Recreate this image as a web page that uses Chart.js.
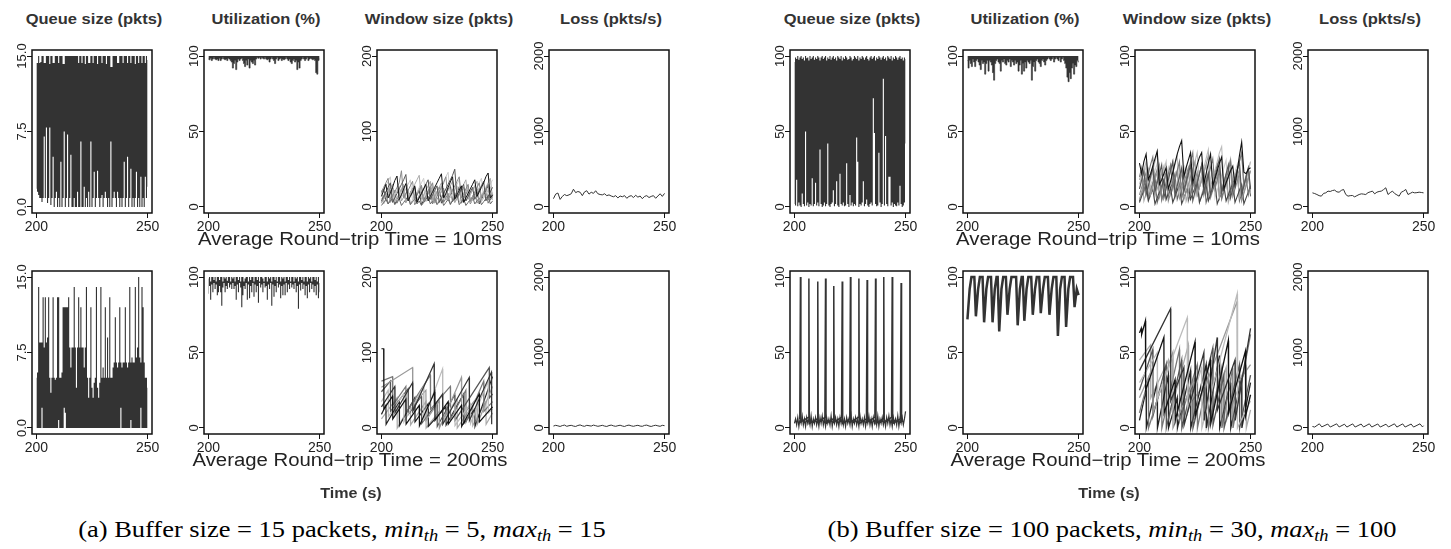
<!DOCTYPE html>
<html>
<head>
<meta charset="utf-8">
<script src="https://cdn.jsdelivr.net/npm/chart.js@4.4.1/dist/chart.umd.min.js"></script>
<style>
  body { margin: 0; background: #fff; width: 1451px; height: 549px; position: relative; overflow: hidden;
         font-family: "Liberation Sans", Arial, sans-serif; }
  canvas { position: absolute; }
  .lbl { position: absolute; white-space: nowrap; }
  .title { font-weight: bold; font-size: 15px; color: #333; }
  .rtt { font-size: 18px; color: #222; }
  .tlab { font-weight: bold; font-size: 14px; color: #333; }
  .cap { font-family: "Liberation Serif", "Times New Roman", serif; font-size: 23px; color: #000; }
  .cap sub { font-size: 16px; vertical-align: -4px; line-height: 0; }
</style>
</head>
<body>
<script>
// time axis: samples from t = 200 s, dense traces every 0.5 s, slow traces every 1 s
const T0 = 200;
const FAST = 0.5;
const SLOW = 1;

// ---------- (a) buffer 15, RTT 10ms ----------
const queueA10Max = [
  14.3,14.3,15,14.3,14.4,15,15,14.3,14.3,15,
  15,15,14.2,15,15,14.3,14.3,15,15,15,
  14.3,15,15,15,14.2,14.2,15,15,15,15,
  15,15,15,15,15,15,15,15,14.3,15,
  15,14.3,15,15,14.2,15,15,14.3,14.3,15,
  15,14.3,15,15,15,14.2,15,15,15,14.3,
  15,15,15,14.2,15,15,15,13.9,13.9,15,
  15,15,15,14.3,14.3,15,15,15,14.3,15,
  15,15,14.3,15,15,14.3,15,15,15,14.2,
  15,15,14.3,15,15,14.3,15,15,14.3,15,
  14.6];
const queueA10Min = [
  1.8,1.5,1.2,0.9,0.9,0.5,0.9,7.0,0.9,7.9,
  0.4,0.9,7.9,0.2,0.9,5.0,0,0.9,1.5,0,
  0.9,0,4.5,0,0.9,7.5,0,0.9,7.2,0,
  0.9,5.2,0,0,0.9,0,0,1.5,0,0,
  6.5,0,0,2.0,0,0.9,0,1.5,0,6.5,
  0,0.9,3.5,0,0.9,3.6,0.9,0,0.9,1.2,
  0,0.9,1.5,0.9,0,0.9,0,6.5,0,0.9,
  1.5,0.9,0,1.5,0.9,0,0.9,0,0.9,4.5,
  0,0.9,5.0,0,0.9,3.8,0,0.9,0,0.9,
  3.5,0,0.9,0,3.0,0,0.9,0,3.0,0.9,
  2.0];
const utilA10Min = [
  98,97.5,98.5,97,98,99,98,97.5,98,97,
  98.5,97,98,99,98,97.5,98,97,98.5,98,
  97,96,92,95,97,91,96,98,97,98,
  98.5,97,95,93,97,94,98,92,97,96,
  95,97,94,98,99,98.5,99,98,99,98.5,
  98,99,98,97.5,98,96,98,99,98,97,
  95,98,99,97,98,98.5,97,98,97.5,98,
  99,98,97,98,96,95,97,98,96,97,
  91,96,92,97,98,99,98,97,98,99,
  97,98,98.5,98,97.5,98,97,89,88,97,
  98];
const windowA10 = [
  [14,22,30,12,18,26,35,41,10,16,24,31,8,14,20,28,6,12,18,24,30,8,14,20,26,32,38,44,12,18,26,33,40,10,16,22,28,6,12,18,24,30,36,14,20,26,32,40,45,12,16],
  [8,14,20,26,32,6,12,18,24,30,36,43,10,14,20,26,8,13,18,24,30,36,10,16,22,28,6,12,18,24,30,36,42,50,12,18,24,30,8,14,20,26,10,16,22,28,34,8,14,20,26],
  [20,26,32,38,10,15,20,26,32,48,12,18,22,28,34,10,16,22,28,8,14,20,26,32,8,14,20,26,32,40,10,16,22,28,34,40,12,18,24,30,8,14,20,26,32,12,18,24,30,10,16],
  [5,10,15,20,25,30,8,12,18,24,30,6,12,18,24,30,36,42,10,16,22,28,34,8,14,20,26,32,10,16,22,28,34,6,12,18,24,30,36,10,16,22,28,34,8,14,20,26,32,38,12],
  [16,22,28,34,40,10,16,22,28,12,18,24,30,36,8,14,20,26,32,38,14,20,26,32,10,16,22,28,34,40,46,12,18,24,30,36,10,16,22,28,8,14,20,26,32,38,12,18,24,30,36],
  [2,6,10,4,8,12,3,7,11,2,6,10,14,3,7,11,4,8,2,6,10,14,4,8,12,3,7,11,2,6,10,4,8,12,16,3,7,11,2,6,10,14,4,8,12,3,7,11,15,4,8],
  [10,15,20,25,6,11,16,21,26,8,13,18,23,4,9,14,19,24,29,7,12,17,22,27,5,10,15,20,25,9,14,19,24,6,11,16,21,26,8,13,18,23,28,5,10,15,20,25,9,14,19],
  [22,4,9,14,19,24,6,11,16,21,26,8,13,18,23,5,10,15,20,25,7,12,17,22,27,4,9,14,19,24,8,13,18,23,28,6,11,16,21,26,5,10,15,20,25,7,12,17,22,27,9],
  [6,12,18,4,10,16,22,5,11,17,23,7,13,19,25,3,9,15,21,6,12,18,24,4,10,16,22,28,6,12,18,3,9,15,21,27,5,11,17,23,4,10,16,22,6,12,18,24,5,11,17],
  [18,24,8,14,20,26,4,10,16,22,28,6,12,18,24,10,16,22,3,9,15,21,27,8,14,20,26,5,11,17,23,29,7,13,19,25,9,15,21,27,6,12,18,24,4,10,16,22,28,9,15]
];
const lossA10 = [110,170,185,100,140,165,150,160,175,235,190,205,195,150,200,215,170,195,180,215,175,165,160,175,150,160,145,135,150,120,145,135,150,115,140,150,125,155,130,145,110,140,150,125,140,150,115,145,175,140,180];

// ---------- (a) buffer 15, RTT 200ms ----------
const queueA200Max = [
  5,5.5,14,8.5,8.5,8.5,13,8,13,8.5,
  9,13,5,3.5,5,13,5,4.8,5,13,
  13,5,5,5.5,12,12,12,12,12,13,
  8,6,8,8,14,8,4,8,13,8,
  12,8,8,6,8,14,5,3,5,12,
  4,3,4.5,5,14,4,3,4.5,14,5,
  6,5,12,5,9,5,13,5,5,6,
  6.5,11,6.5,6,6.5,12,6.5,6,6.5,6.5,
  12,6.5,6,6.5,14,6.5,7,6.5,6.5,14,
  7,8,15,7,6.5,14,12,6.5,5,5,
  4];
const queueA200Min = [
  0,0,0,0,0,2,0,0,0,0,
  0,0,0,0,0,0,0,0,0,0,
  0.8,0,0,0,0,2,1.5,0,0,0,
  0,0,0,0,0,0,0,0,0,0,
  0,0,0,0,0,0,0,0,0,0,
  0,0,0,0,0,0,0,0,0,0,
  0,0,0,0,0,0,0,0,0,0,
  0,0,0,0,0,0,2,0,0,0,
  0,0,0,0,0,0.8,0,0,0,0,
  0,0,0,0,2,0,0,0,0,0,
  0];
const utilA200Max = [
  99,100,97,100,100,98,100,97,100,100,
  98,100,100,97,100,99,100,97.5,100,100,
  97,100,99,100,97,100,100,98,100,97,
  100,100,97,99,100,100,97,100,98,100,
  100,97,100,100,98,100,97,100,100,99,
  97,100,100,97,100,99,100,97,100,100,
  98,100,97,100,100,97,100,99,100,97,
  100,100,98,100,97,100,100,97,100,99,
  100,97,100,100,98,100,97,100,100,97,
  100,99,100,97,100,100,98,100,97,100,
  96];
const utilA200Min = [
  89,94,85,95,90,96,92,95,88,90,
  94,90,81,93,96,90,94,92,96,93,
  95,92,96,92,94,85,95,90,96,93,
  80,88,94,92,96,85,95,86,94,90,
  96,87,95,90,94,83,96,93,95,90,
  96,93,94,85,95,92,96,81,95,87,
  94,90,96,93,95,86,94,88,95,88,
  96,90,95,92,96,93,95,92,96,90,
  94,79,95,91,96,92,95,88,94,86,
  95,90,96,92,95,90,94,88,95,86,
  90];
const windowA200 = [
  [[200,105],[201,105],[201.1,25],[205,42],[205.1,12],[211,38],[211.1,5],[217,30],[217.1,3],[224,48],[224.1,10],[230,35],[230.1,5],[236,30],[236.1,2],[244,45],[244.1,8],[250,28]],
  [[200,28],[206,55],[206.1,20],[214,60],[214.1,22],[223.7,85],[223.8,30],[227.5,45],[227.6,5],[239.5,67],[239.6,10],[249.5,74],[249.6,5]],
  [[200,35],[203,50],[203.1,15],[210,45],[210.1,8],[219,55],[219.1,12],[227.5,78],[227.6,8],[233,35],[233.1,3],[240,32],[240.1,6],[248,62],[248.1,20],[250,25]],
  [[200,54],[214,80],[214.1,30],[220,50],[220.1,10],[226,36],[226.1,0],[236,67],[236.1,15],[243,40],[243.1,5],[250,55]],
  [[200,48],[204,62],[204.1,22],[212,52],[212.1,18],[218,42],[218.1,6],[225,33],[225.1,2],[233,44],[233.1,10],[248.5,80],[248.6,40],[250,45]],
  [[200,62],[205,68],[205.1,30],[211,55],[211.1,20],[222,70],[222.1,25],[231,55],[231.1,12],[238,50],[238.1,8],[246,62],[246.1,22],[250,35]],
  [[200,18],[202,30],[202.1,5],[208,35],[208.1,3],[215,40],[215.1,8],[221,32],[221.1,2],[229,28],[229.1,4],[237,45],[237.1,6],[242,25],[242.1,2],[250,68]],
  [[200,12],[207,40],[207.1,0],[213,30],[213.1,4],[220,35],[220.1,0],[226,22],[226.1,2],[234,38],[234.1,0],[241,30],[241.1,3],[247,35],[247.1,5],[250,20]]
];
const lossA200 = [25,35,28,20,32,38,22,30,35,25,20,33,40,28,22,35,30,25,38,30,22,28,35,25,20,32,38,28,22,30,36,26,20,32,38,28,22,30,35,25,22,34,38,26,20,30,36,28,22,35,30];

// ---------- (b) buffer 100, RTT 10ms ----------
const queueB10Max = [
  96,99,98,100,97.5,99,100,98,99,97,
  100,98.5,99,97,100,98,99,100,97.5,99,
  98,100,99,97,99,100,98,99,100,97,
  99,98,100,97.5,99,100,98,99,97,100,
  99,98,100,97,99,98,100,99,97.5,98,
  100,99,97,98,100,99,98,100,97,99,
  98,100,99,97.5,99,100,98,97,99,100,
  98,99,100,97,99,98,100,99,97.5,99,
  100,98,99,97,100,99,98,100,97,99,
  98,100,99,97.5,99,100,98,99,97,99,
  98];
const queueB10Min = [
  2,1,18,0.5,3,1,0,9,2,0.5,
  50,1,3,0,2,1,19,0.5,2,16,
  1,3,0.5,38,2,0,1,3,0.5,2,
  42,1,0,2,3,11,0.5,2,17,1,
  0,22,2,1,3,0.5,1,29,2,0,
  8,1,3,0.5,2,1,46,30,0,2,
  1,3,17,0.5,2,5,1,0,2,3,
  1,72,49,2,0.5,1,36,3,0,2,
  85,1,47,2,0.5,20,20,1,3,0,
  2,1,0.5,3,1,14,2,0,1,3,
  42];
const utilB10Min = [
  97,92,97,95,93,98,96,93,97,98,
  96,94,91,97,95,96,88,95,97,90,
  97,96,94,89,84,95,97,98,96,95,
  90,97,96,98,95,94,97,96,98,93,
  97,96,94,97,95,96,90,94,97,88,
  95,90,96,92,97,96,95,97,84,93,
  96,90,97,98,96,95,93,97,98,96,
  94,97,98,99,98,97,98,99,96,98,
  99,98,97,99,96,98,99,97,95,92,
  86,83,89,85,92,95,88,94,93,97,
  96];
const windowB10 = [
  [29,22,30,35,18,22,27,32,37,15,18,22,26,12,17,23,29,35,40,44,20,26,31,36,16,22,28,33,36,15,22,29,35,14,19,24,29,33,12,16,20,24,27,14,24,34,43,23,22,25,26],
  [12,18,24,8,14,20,26,10,16,22,28,6,12,18,24,30,8,14,20,26,10,16,22,28,4,10,16,22,28,10,16,22,8,14,20,26,32,10,16,22,28,6,12,18,24,30,8,14,20,26,12],
  [20,26,10,16,22,28,33,12,18,24,5,10,16,22,28,12,18,24,30,6,12,18,24,30,36,10,16,22,28,8,14,20,26,32,12,18,24,6,12,18,24,30,12,18,24,30,36,14,20,8,14],
  [5,10,15,20,25,8,13,18,23,28,4,9,14,19,24,30,10,15,20,25,5,10,15,20,25,30,8,13,18,23,28,34,8,13,18,23,6,11,16,21,26,31,10,15,20,25,5,10,15,20,24],
  [15,20,25,30,12,18,24,30,36,12,18,24,30,10,16,22,28,34,8,14,20,26,12,18,24,30,36,14,20,26,32,38,12,18,24,30,36,40,14,20,26,32,12,18,24,30,36,12,18,24,30],
  [3,7,11,15,4,8,12,2,6,10,14,18,5,9,13,3,7,11,15,2,6,10,14,5,9,13,17,3,7,11,15,4,8,12,16,2,6,10,14,4,8,12,16,3,7,11,15,2,6,10,14],
  [8,13,18,23,5,10,15,20,25,7,12,17,22,4,9,14,19,24,6,11,16,21,26,8,13,18,23,3,8,13,18,23,6,11,16,21,26,5,10,15,20,25,7,12,17,22,4,9,14,19,24],
  [18,23,4,9,14,19,24,7,12,17,22,27,5,10,15,20,6,11,16,21,26,4,9,14,19,24,8,13,18,23,28,5,10,15,20,25,7,12,17,22,3,8,13,18,23,6,11,16,21,26,9],
  [4,9,14,19,6,11,16,21,3,8,13,18,23,7,12,17,22,5,10,15,20,25,4,9,14,19,8,13,18,23,3,8,13,18,23,28,6,11,16,21,5,10,15,20,25,4,9,14,19,24,7],
  [12,17,22,27,9,14,19,24,29,6,11,16,21,26,8,13,18,23,28,5,10,15,20,25,30,7,12,17,22,27,9,14,19,24,6,11,16,21,26,31,8,13,18,23,28,5,10,15,20,25,30]
];
const lossB10 = [187,178,165,150,143,180,187,210,205,218,223,200,196,220,232,165,143,150,152,134,150,165,174,170,165,190,200,210,174,196,205,210,230,254,165,190,210,178,160,143,196,210,232,165,180,196,187,190,196,192,187];

// ---------- (b) buffer 100, RTT 200ms ----------
const queueB200Base = [
  3,6,2,7,1,6,3,8,2,6,
  1,7,3,6,2,8,1,6,3,7,
  2,6,1,7,3,8,2,6,1,7,
  3,6,2,8,1,6,3,7,2,6,
  1,7,3,8,2,6,1,7,3,6,
  2,8,1,6,3,7,2,6,1,8,
  3,6,2,7,1,6,3,8,2,6,
  1,7,3,6,2,8,1,6,3,7,
  2,6,1,7,3,8,2,6,1,7,
  3,6,2,8,1,6,3,7,2,6,
  11];
const queueB200Spikes = [
  [202.4,6],[202.7,100],[202.9,4],[206.2,7],[206.5,99],[206.7,3],
  [210.2,6],[210.5,97],[210.7,4],[213.7,7],[214.0,99],[214.2,3],
  [217.4,6],[217.7,94],[217.9,4],[221.2,7],[221.5,97],[221.7,3],
  [224.9,6],[225.2,100],[225.4,4],[228.7,7],[229.0,99],[229.2,3],
  [232.4,6],[232.7,98],[232.9,4],[236.2,7],[236.5,99],[236.7,3],
  [239.9,6],[240.2,100],[240.4,4],[243.7,7],[244.0,100],[244.2,3],
  [247.7,6],[248.0,96],[248.2,4]
];
const utilB200 = [
  [200,72],[201,92],[201.8,100],
  [203.1,100],[203.8,74],[204.8,92],[205.6,100],
  [206.8,100],[207.5,70],[208.5,92],[209.3,100],
  [210.6,100],[211.3,70],[212.3,92],[213.1,100],
  [213.6,100],[214.3,64],[215.3,92],[216.1,100],
  [217.3,100],[218,75],[219,92],[219.8,100],
  [221.9,100],[222.6,68],[223.6,92],[224.4,100],
  [224.9,100],[225.6,71],[226.6,92],[227.4,100],
  [228.7,100],[229.4,75],[230.4,92],[231.2,100],
  [232.3,100],[233,76],[234,92],[234.8,100],
  [236.2,100],[236.9,75],[237.9,92],[238.7,100],
  [240,100],[240.7,61],[241.7,92],[242.5,100],
  [243.7,100],[244.4,67],[245.4,92],[246.2,100],
  [247.5,100],[248.2,80],[249.2,92],[250,88]
];
const windowB200 = [
  [[200,63],[200.8,66],[201,62],[202.7,71],[202.8,25],[211,60],[211.1,10],[216,32],[216.1,5],[225,57],[225.1,8],[232,45],[232.1,3],[240,58],[240.1,10],[247.7,51],[247.8,8],[250,22]],
  [[200,38],[214,79],[214.1,18],[220,40],[220.1,2],[229,50],[229.1,5],[235,60],[235.1,12],[243,45],[243.1,5],[250,66]],
  [[200,30],[208,50],[208.1,20],[221.5,73],[221.6,10],[228,40],[228.1,0],[244,89],[244.1,0],[250,18]],
  [[200,20],[206,40],[206.1,10],[215,50],[215.1,0],[225,33],[225.1,10],[244,84],[244.1,30],[250,42]],
  [[200,25],[206,52],[206.1,8],[212,42],[212.1,0],[219,45],[219.1,0],[224,30],[224.1,0],[233,53],[233.1,2],[238,35],[238.1,0],[245,42],[245.1,0],[250,35]],
  [[200,10],[204,32],[204.1,0],[210,28],[210.1,0],[218,52],[218.1,5],[226,42],[226.1,0],[231,35],[231.1,0],[237,40],[237.1,0],[242,40],[242.1,0],[250,62]],
  [[200,5],[203,25],[203.1,0],[208,30],[208.1,0],[213,35],[213.1,0],[217,20],[217.1,0],[223,38],[223.1,0],[230,42],[230.1,0],[236,48],[236.1,0],[241,30],[241.1,0],[246,33],[246.1,0],[250,30]],
  [[200,45],[205,55],[205.1,20],[213,45],[213.1,5],[222,55],[222.1,15],[230,30],[230.1,0],[239,40],[239.1,5],[248,40],[248.1,0],[250,12]]
];
const lossB200 = [
  [200,20],[201,12],[203.1,55],[204.2,14],[206.9,52],[208,12],[210.9,55],[212,13],[214.4,50],[215.5,12],
  [218.1,54],[219.2,12],[221.9,52],[223,13],[225.6,55],[226.7,12],[229.4,53],[230.5,12],[233.1,50],[234.2,13],
  [236.9,55],[238,12],[240.6,54],[241.7,12],[244.4,52],[245.5,12],[248.4,55],[249.5,14],[250,30]
];

// line colours for the individual flows, dark to light (first one is drawn on top)
const flowGreysA10 = ['#111', '#555', '#888', '#aaa', '#ccc', '#666', '#999', '#bbb', '#777', '#444'];
const flowGreysB10 = ['#111', '#555', '#777', '#999', '#bbb', '#444', '#888', '#aaa', '#666', '#ccc'];
const flowGreys200 = ['#111', '#333', '#bbb', '#999', '#555', '#777', '#222', '#aaa'];

// ---------- layout ----------
const PANEL_X = [[32, 204, 377, 549], [790, 963, 1135, 1308]];
const ROW_Y = [50, 271];
const BOX_W = 120, BOX_H = 163;
const PAD_L = 34, PAD_T = 10, PAD_R = 18, PAD_B = 24;
const TICK_LEN = 5, YLAB_GAP = 10;
const FONT_FAMILY = '"Liberation Sans", Arial, sans-serif';
const DARK = '#333';

const measureCtx = document.createElement('canvas').getContext('2d');
measureCtx.font = '13px ' + FONT_FAMILY;

function sampled(values, step) {
  return values.map((v, i) => ({ x: T0 + i * step, y: v }));
}
function vertices(list) {
  return list.map(p => ({ x: p[0], y: p[1] }));
}
function line(points, color, width) {
  return { data: points, borderColor: color, borderWidth: width, fill: false };
}
// dense trace drawn as the filled area between its per-sample max and min
function band(maxVals, minVals) {
  return [
    { data: sampled(maxVals, FAST), borderWidth: 0, backgroundColor: DARK, fill: '+1', stepped: 'middle' },
    { data: sampled(minVals, FAST), borderWidth: 0, fill: false, stepped: 'middle' }
  ];
}
function toHundred(minVals) {
  return [{ data: sampled(minVals, FAST), borderColor: DARK, borderWidth: 0.6, backgroundColor: DARK,
            fill: { value: 100 }, stepped: 'middle' }];
}

const rBox = {
  id: 'rBox',
  afterDraw(chart) {
    const { ctx, chartArea: a } = chart;
    ctx.save();
    ctx.strokeStyle = '#111';
    ctx.lineWidth = 1.5;
    ctx.strokeRect(a.left, a.top, a.right - a.left, a.bottom - a.top);
    ctx.restore();
  }
};

function panel(col, row, yMax, fmt, datasets) {
  const boxLeft = PANEL_X[col >> 2][col & 3];
  const boxTop = ROW_Y[row];
  const c = document.createElement('canvas');
  c.width = BOX_W + PAD_L + PAD_R;
  c.height = BOX_H + PAD_T + PAD_B;
  c.style.left = (boxLeft - PAD_L) + 'px';
  c.style.top = (boxTop - PAD_T) + 'px';
  document.body.appendChild(c);

  const yTicks = [0, yMax / 2, yMax];
  const widest = Math.max(...yTicks.map(v => measureCtx.measureText(fmt(v)).width));

  new Chart(c, {
    type: 'line',
    data: { datasets },
    options: {
      responsive: false, animation: false, devicePixelRatio: 1, events: [],
      layout: { padding: { top: PAD_T, right: PAD_R, left: 0, bottom: 0 } },
      elements: { point: { radius: 0 }, line: { tension: 0 } },
      plugins: { legend: { display: false }, tooltip: { enabled: false } },
      scales: {
        x: {
          type: 'linear', min: 198, max: 252,
          afterBuildTicks: s => { s.ticks = [{ value: 200 }, { value: 250 }]; },
          afterFit: s => { s.height = PAD_B; s.paddingLeft = 0; s.paddingRight = 0; },
          border: { display: false },
          grid: { drawOnChartArea: false, tickLength: TICK_LEN, color: '#111' },
          ticks: { autoSkip: false, maxRotation: 0, padding: 1, color: '#222',
                   font: { size: 14, family: FONT_FAMILY } }
        },
        y: {
          type: 'linear', min: -0.04 * yMax, max: 1.04 * yMax,
          afterBuildTicks: s => { s.ticks = yTicks.map(v => ({ value: v })); },
          afterFit: s => { s.width = PAD_L; s.paddingTop = 0; s.paddingBottom = 0; },
          border: { display: false },
          grid: { drawOnChartArea: false, tickLength: TICK_LEN, color: '#111' },
          ticks: { autoSkip: false, minRotation: 90, maxRotation: 90, crossAlign: 'center',
                   padding: YLAB_GAP - TICK_LEN - widest / 2, color: '#222',
                   font: { size: 13, family: FONT_FAMILY }, callback: v => fmt(v) }
        }
      }
    },
    plugins: [rBox]
  });
}

const int = v => String(v);
const oneDec = v => v.toFixed(1);

// (a) top row: RTT 10ms
panel(0, 0, 15, oneDec, band(queueA10Max, queueA10Min));
panel(1, 0, 100, int, toHundred(utilA10Min));
panel(2, 0, 200, int, windowA10.map((f, i) => line(sampled(f, SLOW), flowGreysA10[i], 1)));
panel(3, 0, 2000, int, [line(sampled(lossA10, SLOW), DARK, 1)]);
// (a) bottom row: RTT 200ms
panel(0, 1, 15, oneDec, band(queueA200Max, queueA200Min));
panel(1, 1, 100, int, band(utilA200Max, utilA200Min));
panel(2, 1, 200, int, windowA200.map((f, i) => line(vertices(f), flowGreys200[i], 1.2)));
panel(3, 1, 2000, int, [line(sampled(lossA200, SLOW), DARK, 1)]);
// (b) top row: RTT 10ms
panel(4, 0, 100, int, band(queueB10Max, queueB10Min));
panel(5, 0, 100, int, toHundred(utilB10Min));
panel(6, 0, 100, int, windowB10.map((f, i) => line(sampled(f, SLOW), flowGreysB10[i], 1.1)));
panel(7, 0, 2000, int, [line(sampled(lossB10, SLOW), DARK, 1)]);
// (b) bottom row: RTT 200ms
panel(4, 1, 100, int, [line(sampled(queueB200Base, FAST), DARK, 1.2), line(vertices(queueB200Spikes), DARK, 1.5)]);
panel(5, 1, 100, int, [line(vertices(utilB200), DARK, 2.5)]);
panel(6, 1, 100, int, windowB200.map((f, i) => line(vertices(f), flowGreys200[i], 1.3)));
panel(7, 1, 2000, int, [line(vertices(lossB200), DARK, 1)]);

// ---------- text ----------
// the source picture is slightly stretched sideways, so labels get a matching horizontal scale
function text(html, cls, cx, cy, sx) {
  const d = document.createElement('div');
  d.className = 'lbl ' + cls;
  d.innerHTML = html;
  d.style.left = cx + 'px';
  d.style.top = cy + 'px';
  d.style.transform = 'translate(-50%, -50%) scaleX(' + sx + ')';
  document.body.appendChild(d);
}
const panelTitles = ['Queue size (pkts)', 'Utilization (%)', 'Window size (pkts)', 'Loss (pkts/s)'];
PANEL_X.forEach(xs => xs.forEach((x, i) => text(panelTitles[i], 'title', x + BOX_W / 2 + 2, 18, 1.1)));
[349.5, 1108].forEach(cx => {
  text('Average Round\u2212trip Time = 10ms', 'rtt', cx, 239, 1.13);
  text('Average Round\u2212trip Time = 200ms', 'rtt', cx, 460, 1.13);
  text('Time (s)', 'tlab', cx + 1, 493, 1.15);
});
text('(a) Buffer size = 15 packets, <i>min<sub>th</sub></i> = 5, <i>max<sub>th</sub></i> = 15', 'cap', 342, 530, 1.15);
text('(b) Buffer size = 100 packets, <i>min<sub>th</sub></i> = 30, <i>max<sub>th</sub></i> = 100', 'cap', 1112, 530, 1.15);
</script>
</body>
</html>
